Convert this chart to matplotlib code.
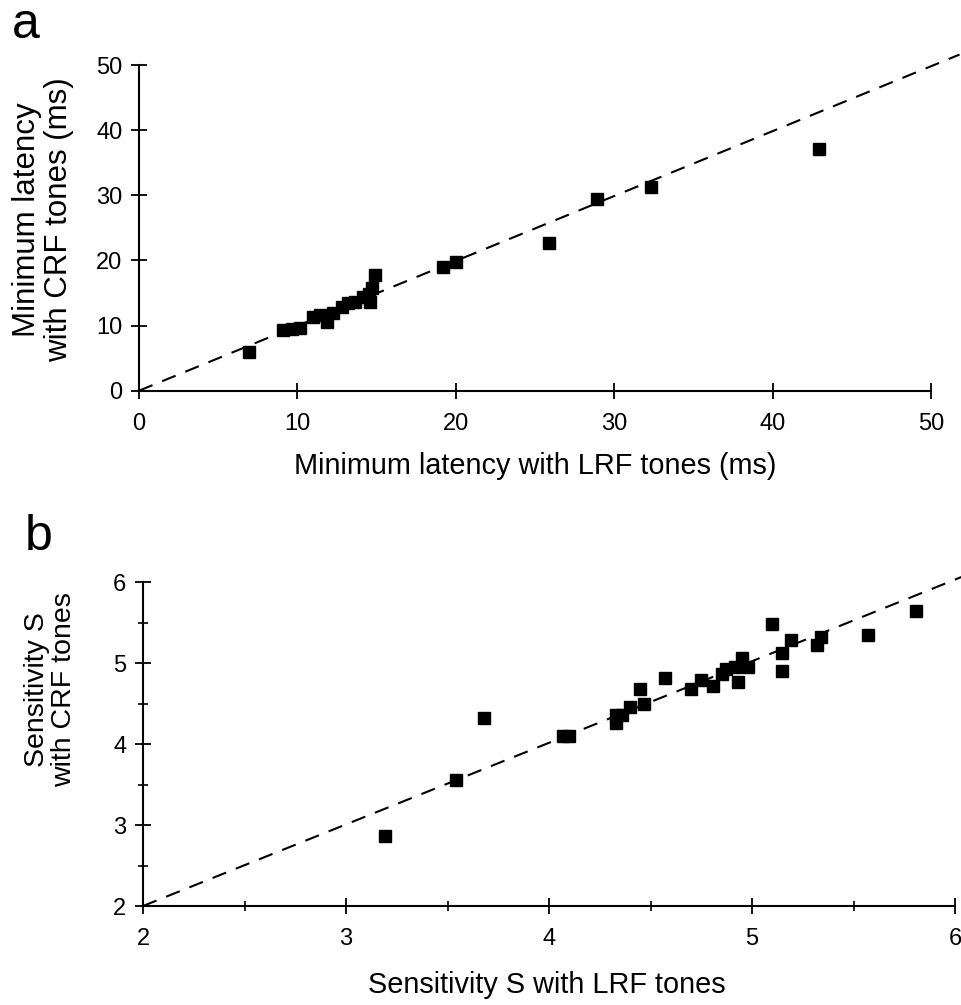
import matplotlib
matplotlib.use("Agg")
import matplotlib.pyplot as plt
from matplotlib.ticker import MultipleLocator

plt.rcParams['font.family'] = ['Liberation Sans', 'DejaVu Sans']

# panel a: minimum latency (ms)
lat_lrf = [6.96, 9.11, 9.64, 10.16, 11.0, 11.43, 11.85, 12.27, 12.8, 13.2,
           13.64, 14.16, 14.58, 14.5, 14.69, 14.9, 19.17, 20.01, 25.9, 28.9,
           32.3, 42.93]
lat_crf = [5.99, 9.32, 9.43, 9.59, 11.37, 11.63, 10.6, 11.98, 12.8, 13.4,
           13.67, 14.44, 13.67, 14.9, 15.73, 17.77, 18.96, 19.82, 22.7, 29.45,
           31.34, 37.1]

# panel b: sensitivity S
sens_lrf = [3.19, 3.54, 3.68, 4.07, 4.10, 4.33, 4.33, 4.36, 4.40, 4.45,
            4.47, 4.57, 4.70, 4.75, 4.81, 4.85, 4.87, 4.915, 4.93, 4.95,
            4.98, 5.10, 5.15, 5.15, 5.19, 5.32, 5.34, 5.57, 5.81]
sens_crf = [2.86, 3.56, 4.32, 4.10, 4.10, 4.36, 4.26, 4.36, 4.46, 4.68,
            4.50, 4.82, 4.675, 4.79, 4.72, 4.87, 4.92, 4.95, 4.76, 5.06,
            4.95, 5.48, 5.12, 4.90, 5.29, 5.22, 5.32, 5.35, 5.64]

W, H = 962, 1005
fig = plt.figure(figsize=(W / 100, H / 100), dpi=100)


def style_axes(ax):
    for s in ['top', 'right']:
        ax.spines[s].set_visible(False)
    for s in ['left', 'bottom']:
        ax.spines[s].set_linewidth(1.5)
    ax.tick_params(which='major', direction='inout', length=12, width=1.3,
                   labelsize=17, pad=6)
    ax.tick_params(axis='x', which='major', pad=10)
    ax.tick_params(which='minor', direction='inout', length=7, width=1.2)


# ---- panel a
ax1 = fig.add_axes([139 / W, 1 - 390.7 / H, 792 / W, 325.7 / H])
ax1.set_xlim(0, 50)
ax1.set_ylim(0, 50)
ax1.plot([0, 51.8], [0, 51.6], ls=(0, (7, 5)), color='black', lw=1.5,
         clip_on=False)
ax1.plot(lat_lrf, lat_crf, 's', color='black', ms=8.5, clip_on=False)
ax1.xaxis.set_major_locator(MultipleLocator(10))
ax1.yaxis.set_major_locator(MultipleLocator(10))
style_axes(ax1)

fig.text(535 / W, 1 - 466 / H, 'Minimum latency with LRF tones (ms)',
         ha='center', va='center', fontsize=20.8)
fig.text(43 / W, 1 - 220 / H, 'Minimum latency\nwith CRF tones (ms)',
         ha='center', va='center', rotation=90, fontsize=22.5,
         multialignment='center', linespacing=1.05)
fig.text(12 / W, 1 - 38 / H, 'a', fontsize=36, ha='left', va='baseline')

# ---- panel b
ax2 = fig.add_axes([143 / W, 1 - 906 / H, 812 / W, 324 / H])
ax2.set_xlim(2, 6)
ax2.set_ylim(2, 6)
ax2.plot([2, 6.04], [2, 6.07], ls=(0, (7, 5)), color='black', lw=1.5,
         clip_on=False)
ax2.plot(sens_lrf, sens_crf, 's', color='black', ms=8.5, clip_on=False)
ax2.xaxis.set_major_locator(MultipleLocator(1))
ax2.yaxis.set_major_locator(MultipleLocator(1))
ax2.xaxis.set_minor_locator(MultipleLocator(0.5))
ax2.yaxis.set_minor_locator(MultipleLocator(0.5))
style_axes(ax2)

fig.text(547 / W, 1 - 985 / H, 'Sensitivity S with LRF tones',
         ha='center', va='center', fontsize=20.8)
fig.text(51 / W, 1 - 690 / H, 'Sensitivity S\nwith CRF tones',
         ha='center', va='center', rotation=90, fontsize=20.5,
         multialignment='center', linespacing=1.05)
fig.text(25 / W, 1 - 550 / H, 'b', fontsize=36, ha='left', va='baseline')

fig.savefig('out.png', dpi=100)
